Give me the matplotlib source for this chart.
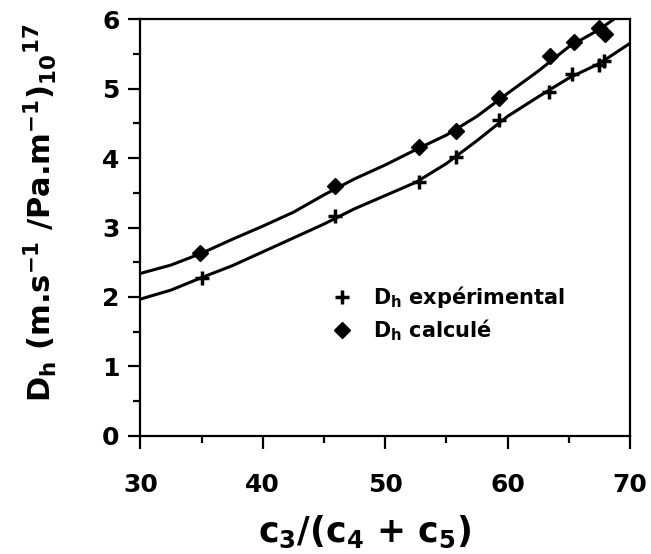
import matplotlib
matplotlib.use('Agg')
import matplotlib.pyplot as plt
from matplotlib.ticker import MultipleLocator

plt.rcParams['font.family'] = ['DejaVu Sans']
plt.rcParams['font.weight'] = 'bold'
plt.rcParams['mathtext.default'] = 'regular'

# measured points
ratio = [35.0, 45.9, 52.8, 55.8, 59.3, 63.4, 65.3, 67.5, 67.9]
dh_exp = [2.28, 3.16, 3.66, 4.02, 4.55, 4.95, 5.21, 5.34, 5.40]
ratio_calc = [34.9, 45.9, 52.8, 55.8, 59.3, 63.5, 65.4, 67.5, 68.0]
dh_calc = [2.63, 3.60, 4.16, 4.39, 4.86, 5.47, 5.67, 5.87, 5.79]

# hand drawn fit curves
curve_x_upper = [30, 32.5, 35, 37.5, 40, 42.5, 45, 47.5, 50, 52.5, 55, 57.5, 60, 62.5, 65, 67.5, 68.7]
curve_y_upper = [2.34, 2.46, 2.63, 2.83, 3.02, 3.22, 3.47, 3.70, 3.90, 4.12, 4.33, 4.60, 4.93, 5.25, 5.60, 5.85, 6.00]
curve_x_lower = [30, 32.5, 35, 37.5, 40, 42.5, 45, 47.5, 50, 52.5, 55, 57.5, 60, 62.5, 65, 67.5, 70]
curve_y_lower = [1.97, 2.10, 2.28, 2.45, 2.65, 2.85, 3.05, 3.27, 3.46, 3.65, 3.92, 4.25, 4.60, 4.88, 5.15, 5.36, 5.65]

fig = plt.figure(figsize=(6.51, 5.54), dpi=100)
ax = fig.add_axes([0.2158, 0.213, 0.7519, 0.7527])

ax.plot(curve_x_upper, curve_y_upper, color='black', linewidth=2.2, solid_capstyle='round')
ax.plot(curve_x_lower, curve_y_lower, color='black', linewidth=2.2, solid_capstyle='round')
ax.plot(ratio, dh_exp, linestyle='none', marker='+', markersize=10, markeredgewidth=2.5,
        color='black', label='D$_h$ expérimental')
ax.plot(ratio_calc, dh_calc, linestyle='none', marker='D', markersize=8,
        color='black', label='D$_h$ calculé')

ax.set_xlim(30, 70)
ax.set_ylim(0, 6)
ax.xaxis.set_major_locator(MultipleLocator(10))
ax.xaxis.set_minor_locator(MultipleLocator(5))
ax.yaxis.set_major_locator(MultipleLocator(1))
ax.yaxis.set_minor_locator(MultipleLocator(0.5))

for s in ax.spines.values():
    s.set_linewidth(1.6)
ax.tick_params(which='major', direction='out', length=9, width=1.6, labelsize=18)
ax.tick_params(which='minor', direction='out', length=5, width=1.6)
ax.tick_params(axis='x', which='major', pad=18)
ax.tick_params(axis='y', which='major', pad=6)

leg = ax.legend(loc='center left', bbox_to_anchor=(0.39, 0.293), frameon=False,
                fontsize=15, handlelength=1.0, handletextpad=1.0, labelspacing=0.35,
                borderpad=0, borderaxespad=0)

fig.text(0.56, 0.04, 'c$_3$/(c$_4$ + c$_5$)', fontsize=25, ha='center', va='center')
fig.text(0.062, 0.617, 'D$_h$ (m.s$^{-1}$ /Pa.m$^{-1}$)$_{10}$$^{17}$', fontsize=22,
         rotation=90, ha='center', va='center')

plt.savefig('out.png', dpi=100)
plt.close()
